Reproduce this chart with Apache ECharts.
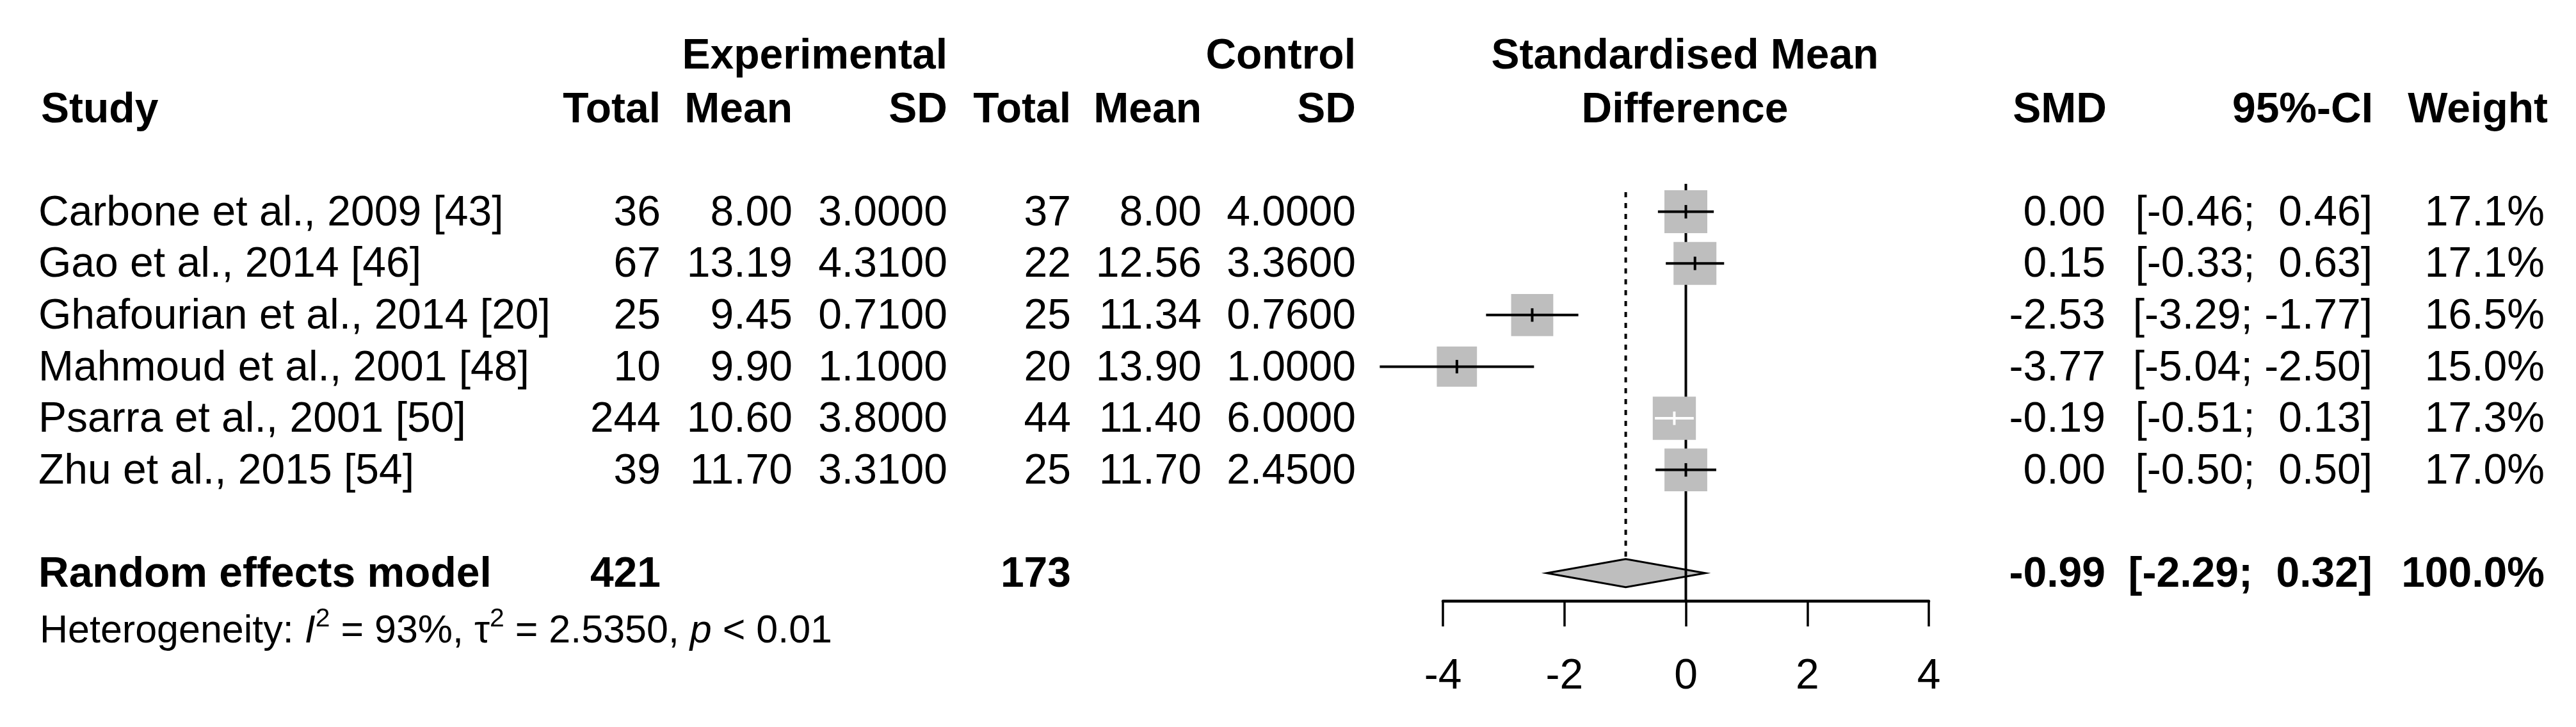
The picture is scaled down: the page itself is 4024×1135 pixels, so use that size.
<!DOCTYPE html>
<html><head><meta charset="utf-8">
<script src="https://cdn.jsdelivr.net/npm/echarts@6/dist/echarts.min.js"></script>
<style>html,body{margin:0;padding:0;background:#fff}#chart{width:4024px;height:1135px}</style>
</head><body><div id="chart"></div>
<script>
// ---------------- data ----------------
const studies = ['Carbone et al., 2009 [43]', 'Gao et al., 2014 [46]', 'Ghafourian et al., 2014 [20]',
  'Mahmoud et al., 2001 [48]', 'Psarra et al., 2001 [50]', 'Zhu et al., 2015 [54]'];
const expTotal = [36, 67, 25, 10, 244, 39];
const expMean = [8.00, 13.19, 9.45, 9.90, 10.60, 11.70];
const expSD = [3.0000, 4.3100, 0.7100, 1.1000, 3.8000, 3.3100];
const ctrlTotal = [37, 22, 25, 20, 44, 25];
const ctrlMean = [8.00, 12.56, 11.34, 13.90, 11.40, 11.70];
const ctrlSD = [4.0000, 3.3600, 0.7600, 1.0000, 6.0000, 2.4500];
const smd = [0.00, 0.15, -2.53, -3.77, -0.19, 0.00];
const ciLow = [-0.46, -0.33, -3.29, -5.04, -0.51, -0.50];
const ciHigh = [0.46, 0.63, -1.77, -2.50, 0.13, 0.50];
const weight = [17.1, 17.1, 16.5, 15.0, 17.3, 17.0];
const pooledLabel = 'Random effects model';
const pooledExpTotal = 421;
const pooledCtrlTotal = 173;
const pooledSMD = -0.99;
const pooledLow = -2.29;
const pooledHigh = 0.32;
const pooledWeight = 100.0;
const hetI2 = '93%';
const hetTau2 = '2.5350';
const hetP = '0.01';
const xTicks = [-4, -2, 0, 2, 4];

// ---------------- layout / style ----------------
const FONT = '"Liberation Sans", Arial, Helvetica, sans-serif';
const FS = 66;
const ROW_PX = 80.6;
const GRID = { left: 2254, top: 250, width: 759, height: 688 };
const Y_MAX = GRID.height / ROW_PX;
const SUMMARY_ROW = 8;
const TEXT_DY = 3;
const SQ_K = 16.2;
const DIAMOND_H = 44;
const LW = 4;
const GRAY = '#bebebe';
const COL = { study: 60, expTotal: 1032, expMean: 1238, expSD: 1480, ctrlTotal: 1673, ctrlMean: 1877,
  ctrlSD: 2118, smd: 3289, ci: 3706, weight: 3975, plotCenter: 2632 };
const HEAD1_Y = 89, HEAD2_Y = 173, HET_Y = 986;

function ciText(lo, hi) { return '[' + lo.toFixed(2) + ';' + (hi < 0 ? ' ' : '  ') + hi.toFixed(2) + ']'; }
function txt(x, y, s, align, bold, size) {
  return { type: 'text', x: x, y: y, style: { text: s, align: align, verticalAlign: 'middle',
    textAlign: align, textVerticalAlign: 'middle',
    fontFamily: FONT, fontSize: size || FS, fontWeight: bold ? 'bold' : 'normal', fill: '#000' } };
}

const chart = echarts.init(document.getElementById('chart'), null, { renderer: 'canvas' });

const studyData = studies.map((s, i) => [smd[i], i + 1, ciLow[i], ciHigh[i], weight[i]]);
const textData = studies.map((s, i) => [0, i + 1, i]);

const option = {
  animation: false,
  backgroundColor: '#fff',
  grid: { left: GRID.left, top: GRID.top, width: GRID.width, height: GRID.height },
  xAxis: {
    type: 'value', min: xTicks[0], max: xTicks[xTicks.length - 1], interval: xTicks[1] - xTicks[0],
    splitLine: { show: false },
    axisLine: { show: true, onZero: false, lineStyle: { color: '#000', width: 4.5 } },
    axisTick: { show: true, length: 40, lineStyle: { color: '#000', width: 3.5 } },
    axisLabel: { color: '#000', fontSize: FS, fontFamily: FONT, margin: 86 }
  },
  yAxis: { type: 'value', min: 0, max: Y_MAX, inverse: true, show: false },
  series: [
    { // pooled diamond
      type: 'custom', clip: false, z: 1,
      data: [[pooledSMD, SUMMARY_ROW, pooledLow, pooledHigh]],
      encode: { x: 0, y: 1 },
      renderItem(params, api) {
        const c = api.coord([api.value(0), api.value(1)]);
        const l = api.coord([api.value(2), api.value(1)]);
        const h = api.coord([api.value(3), api.value(1)]);
        return { type: 'polygon', shape: { points: [[l[0], c[1]], [c[0], c[1] - DIAMOND_H / 2], [h[0], c[1]], [c[0], c[1] + DIAMOND_H / 2]] },
          style: { fill: GRAY, stroke: '#000', lineWidth: 3 } };
      }
    },
    { // reference lines: no effect (solid) and pooled estimate (dashed)
      type: 'custom', clip: false, z: 2,
      data: [[0, 0.46, Y_MAX, 0], [pooledSMD, 0.62, SUMMARY_ROW, 1]],
      encode: { x: 0, y: 1 },
      renderItem(params, api) {
        const dashed = api.value(3) === 1;
        const a = api.coord([api.value(0), api.value(1)]);
        const b = api.coord([api.value(0), api.value(2)]);
        const y2 = dashed ? b[1] - DIAMOND_H / 2 : b[1];
        return { type: 'line', shape: { x1: a[0], y1: a[1], x2: b[0], y2: y2 },
          style: { stroke: '#000', lineWidth: LW, lineDash: dashed ? [8, 9] : null } };
      }
    },
    { // study squares and CIs
      type: 'custom', clip: false, z: 3,
      data: studyData,
      encode: { x: 0, y: 1 },
      renderItem(params, api) {
        const row = api.value(1);
        const c = api.coord([api.value(0), row]);
        const pl = api.coord([api.value(2), row]);
        const ph = api.coord([api.value(3), row]);
        const side = SQ_K * Math.sqrt(api.value(4));
        const inside = pl[0] >= c[0] - side / 2 && ph[0] <= c[0] + side / 2;
        const col = inside ? '#fff' : '#000';
        return { type: 'group', children: [
          { type: 'rect', shape: { x: c[0] - side / 2, y: c[1] - side / 2, width: side, height: side }, style: { fill: GRAY } },
          { type: 'line', shape: { x1: pl[0], y1: c[1], x2: ph[0], y2: c[1] }, style: { stroke: col, lineWidth: LW } },
          { type: 'line', shape: { x1: c[0], y1: c[1] - 10.5, x2: c[0], y2: c[1] + 10.5 }, style: { stroke: col, lineWidth: LW } }
        ] };
      }
    },
    { // study text columns
      type: 'custom', clip: false, z: 4,
      data: textData,
      encode: { x: 0, y: 1 },
      renderItem(params, api) {
        const i = api.value(2);
        const y = api.coord([0, api.value(1)])[1] + TEXT_DY;
        return { type: 'group', children: [
          txt(COL.study, y, studies[i], 'left'),
          txt(COL.expTotal, y, String(expTotal[i]), 'right'),
          txt(COL.expMean, y, expMean[i].toFixed(2), 'right'),
          txt(COL.expSD, y, expSD[i].toFixed(4), 'right'),
          txt(COL.ctrlTotal, y, String(ctrlTotal[i]), 'right'),
          txt(COL.ctrlMean, y, ctrlMean[i].toFixed(2), 'right'),
          txt(COL.ctrlSD, y, ctrlSD[i].toFixed(4), 'right'),
          txt(COL.smd, y, smd[i].toFixed(2), 'right'),
          txt(COL.ci, y, ciText(ciLow[i], ciHigh[i]), 'right'),
          txt(COL.weight, y, weight[i].toFixed(1) + '%', 'right')
        ] };
      }
    },
    { // summary row text
      type: 'custom', clip: false, z: 4,
      data: [[0, SUMMARY_ROW]],
      encode: { x: 0, y: 1 },
      renderItem(params, api) {
        const y = api.coord([0, api.value(1)])[1] + TEXT_DY;
        return { type: 'group', children: [
          txt(COL.study, y, pooledLabel, 'left', true),
          txt(COL.expTotal, y, String(pooledExpTotal), 'right', true),
          txt(COL.ctrlTotal, y, String(pooledCtrlTotal), 'right', true),
          txt(COL.smd, y, pooledSMD.toFixed(2), 'right', true),
          txt(COL.ci, y, ciText(pooledLow, pooledHigh), 'right', true),
          txt(COL.weight, y, pooledWeight.toFixed(1) + '%', 'right', true)
        ] };
      }
    }
  ],
  graphic: [
    txt(COL.expSD, HEAD1_Y, 'Experimental', 'right', true),
    txt(COL.ctrlSD, HEAD1_Y, 'Control', 'right', true),
    txt(COL.plotCenter, HEAD1_Y, 'Standardised Mean', 'center', true),
    txt(COL.study + 4, HEAD2_Y, 'Study', 'left', true),
    txt(COL.expTotal, HEAD2_Y, 'Total', 'right', true),
    txt(COL.expMean, HEAD2_Y, 'Mean', 'right', true),
    txt(COL.expSD, HEAD2_Y, 'SD', 'right', true),
    txt(COL.ctrlTotal, HEAD2_Y, 'Total', 'right', true),
    txt(COL.ctrlMean, HEAD2_Y, 'Mean', 'right', true),
    txt(COL.ctrlSD, HEAD2_Y, 'SD', 'right', true),
    txt(COL.plotCenter, HEAD2_Y, 'Difference', 'center', true),
    txt(COL.smd + 2, HEAD2_Y, 'SMD', 'right', true),
    txt(COL.ci + 1, HEAD2_Y, '95%-CI', 'right', true),
    txt(COL.weight + 5, HEAD2_Y, 'Weight', 'right', true),
    {
      type: 'text', x: COL.study + 2, y: HET_Y,
      style: {
        text: 'Heterogeneity: {i|I}{s|2} = ' + hetI2 + ', τ{s|2} = ' + hetTau2 + ', {i|p} < ' + hetP,
        align: 'left', verticalAlign: 'middle', textAlign: 'left', textVerticalAlign: 'middle',
        fontFamily: FONT, fontSize: 61, lineHeight: 80, fill: '#000',
        rich: {
          i: { fontFamily: FONT, fontSize: 61, fontStyle: 'italic', lineHeight: 80, fill: '#000' },
          s: { fontFamily: FONT, fontSize: 41, verticalAlign: 'top', lineHeight: 30, fill: '#000' }
        }
      }
    }
  ]
};
chart.setOption(option);
</script></body></html>
